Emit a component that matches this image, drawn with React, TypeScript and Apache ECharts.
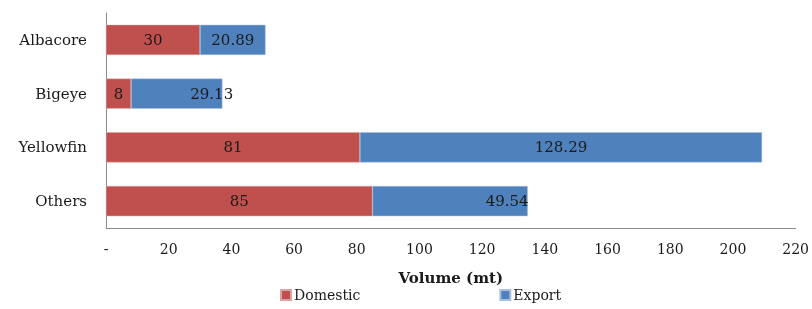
import React, { useEffect, useRef } from "react";
import * as echarts from "echarts";

const categories = ["Albacore", "Bigeye", "Yellowfin", "Others"];
const domestic = [30, 8, 81, 85];
const exportVals = [20.89, 29.13, 128.29, 49.54];
const xTicks = [0, 20, 40, 60, 80, 100, 120, 140, 160, 180, 200, 220];
const exportLabelShift = [0, 35, 0, 57];

const FONT = "'DejaVu Serif', 'Liberation Serif', serif";

export default function App() {
  const ref = useRef<HTMLDivElement>(null);
  useEffect(() => {
    const chart = echarts.init(ref.current!, null, { renderer: "svg" });
    const cats = [...categories].reverse();
    const dom = [...domestic].reverse();
    const exp = [...exportVals].reverse();
    const shift = [...exportLabelShift].reverse();
    chart.setOption({
      animation: false,
      textStyle: { fontFamily: FONT },
      grid: { left: 106, right: 16, top: 13, bottom: 81, containLabel: false },
      xAxis: {
        type: "value",
        min: xTicks[0],
        max: xTicks[xTicks.length - 1],
        interval: 20,
        axisLine: { show: true, lineStyle: { color: "#8c8c8c", width: 1 } },
        axisTick: { show: false },
        splitLine: { show: false },
        axisLabel: {
          color: "#1a1a1a",
          fontSize: 14,
          fontFamily: FONT,
          margin: 14,
          formatter: (v: number) => (v === 0 ? "-" : String(v)),
        },
        name: "Volume (mt)",
        nameLocation: "middle",
        nameGap: 42,
        nameTextStyle: { fontSize: 15, fontWeight: "bold", color: "#1a1a1a", fontFamily: FONT },
      },
      yAxis: {
        type: "category",
        data: cats,
        axisLine: { show: true, lineStyle: { color: "#8c8c8c", width: 1 } },
        axisTick: { show: false },
        axisLabel: { color: "#1a1a1a", fontSize: 15, fontFamily: FONT, margin: 19 },
      },
      legend: {
        left: 280,
        top: 288,
        padding: 0,
        itemWidth: 10,
        itemHeight: 10,
        itemGap: 139,
        icon: "rect",
        textStyle: { fontSize: 14, color: "#1a1a1a", fontFamily: FONT, padding: [0, 0, 0, -2] },
        data: ["Domestic", "Export"],
      },
      series: [
        {
          name: "Domestic",
          type: "bar",
          stack: "total",
          barCategoryGap: "44%",
          data: dom,
          itemStyle: { color: "#C0504D", borderColor: "#d9a5a4", borderWidth: 0.5 },
          label: { show: true, position: "inside", color: "#1a1a1a", fontSize: 15, fontFamily: FONT },
        },
        {
          name: "Export",
          type: "bar",
          stack: "total",
          barCategoryGap: "44%",
          data: exp.map((v, i) => ({
            value: v,
            label: { offset: [shift[i], 0] },
          })),
          itemStyle: { color: "#4F81BD", borderColor: "#a8c0de", borderWidth: 0.5 },
          label: {
            show: true,
            position: "inside",
            color: "#1a1a1a",
            fontSize: 15,
            fontFamily: FONT,
            formatter: (p: any) => Number(p.value).toFixed(2),
          },
        },
      ],
    });
    return () => chart.dispose();
  }, []);
  return (
    <div
      ref={ref}
      style={{ position: "fixed", left: 0, top: 0, width: 812, height: 309, overflow: "hidden" }}
    />
  );
}
